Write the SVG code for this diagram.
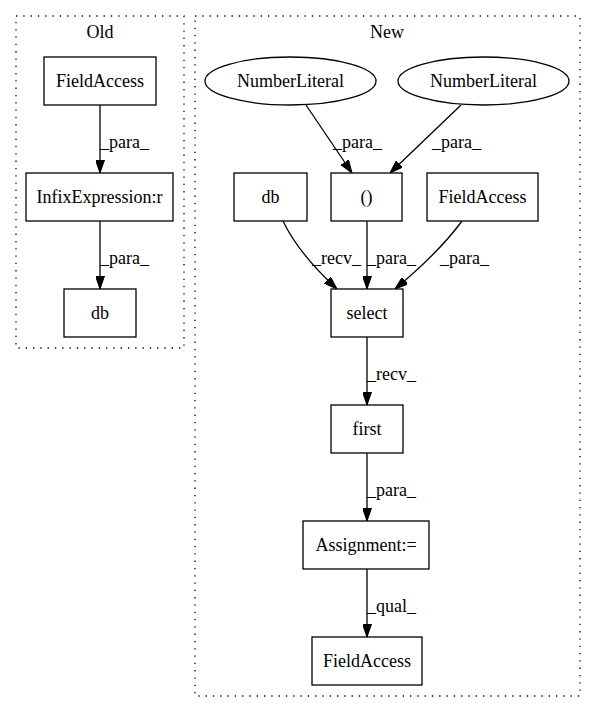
<svg xmlns="http://www.w3.org/2000/svg" width="596" height="712" viewBox="0 0 596 712">
<defs>
<marker id="arr" viewBox="0 0 13 9" refX="13" refY="4.5" markerWidth="13" markerHeight="9" markerUnits="userSpaceOnUse" orient="auto">
<path d="M0,0 L13,4.5 L0,9 z" fill="#000" stroke="#000" stroke-width="1"/>
</marker>
<style>
text{font-family:"Liberation Serif","Times New Roman",serif;font-size:18px;fill:#000}
.n{fill:#fff;stroke:#000;stroke-width:1.3}
.c{fill:none;stroke:#000;stroke-width:1.3;stroke-dasharray:1.3,6}
.e{fill:none;stroke:#000;stroke-width:1.3;marker-end:url(#arr)}
.m{text-anchor:middle}
</style>
</defs>
<rect width="596" height="712" fill="#fff"/>
<g id="cluster_old">
<rect class="c" x="16" y="16" width="168" height="332"/>
<text class="m" x="100" y="38">Old</text>
</g>
<g id="cluster_new">
<rect class="c" x="195" y="16" width="385" height="680"/>
<text class="m" x="387" y="38">New</text>
</g>
<g id="connectors">
<path class="e" d="M100,105 L100,173"/>
<text x="100" y="148">_para_</text>
<path class="e" d="M100,221 L100,289"/>
<text x="100" y="264">_para_</text>
<path class="e" d="M306,105 L352,173"/>
<text x="333" y="148">_para_</text>
<path class="e" d="M461,105 L390,173"/>
<text x="432" y="148">_para_</text>
<path class="e" d="M283,221 C292,240 310,264 337,289"/>
<text x="312" y="264">_recv_</text>
<path class="e" d="M367,221 L367,289"/>
<text x="367" y="264">_para_</text>
<path class="e" d="M462,221 C448,240 425,264 395,289"/>
<text x="440" y="264">_para_</text>
<path class="e" d="M367,337 L367,405"/>
<text x="367" y="380">_recv_</text>
<path class="e" d="M367,453 L367,521"/>
<text x="367" y="496">_para_</text>
<path class="e" d="M367,569 L367,637"/>
<text x="367" y="612">_qual_</text>
</g>
<g id="old_fieldaccess"><rect class="n" x="44" y="57" width="112" height="48"/><text class="m" x="100" y="87">FieldAccess</text></g>
<g id="old_infix"><rect class="n" x="26" y="173" width="147" height="48"/><text class="m" x="99.5" y="203">InfixExpression:r</text></g>
<g id="old_db"><rect class="n" x="64" y="289" width="72" height="48"/><text class="m" x="100" y="319">db</text></g>
<g id="new_numlit1"><ellipse class="n" cx="290.5" cy="81" rx="85.5" ry="24"/><text class="m" x="290.5" y="87">NumberLiteral</text></g>
<g id="new_numlit2"><ellipse class="n" cx="483.5" cy="81" rx="85.5" ry="24"/><text class="m" x="483.5" y="87">NumberLiteral</text></g>
<g id="new_db"><rect class="n" x="234" y="173" width="73" height="48"/><text class="m" x="270.5" y="203">db</text></g>
<g id="new_paren"><rect class="n" x="331" y="173" width="71" height="48"/><text class="m" x="366.5" y="203">()</text></g>
<g id="new_fieldaccess"><rect class="n" x="427" y="173" width="111" height="48"/><text class="m" x="482.5" y="203">FieldAccess</text></g>
<g id="new_select"><rect class="n" x="331" y="289" width="72" height="48"/><text class="m" x="367" y="319">select</text></g>
<g id="new_first"><rect class="n" x="331" y="405" width="72" height="48"/><text class="m" x="367" y="435">first</text></g>
<g id="new_assignment"><rect class="n" x="303" y="521" width="126" height="48"/><text class="m" x="366" y="551">Assignment:=</text></g>
<g id="new_fieldaccess2"><rect class="n" x="312" y="637" width="110" height="48"/><text class="m" x="367" y="667">FieldAccess</text></g>
</svg>
